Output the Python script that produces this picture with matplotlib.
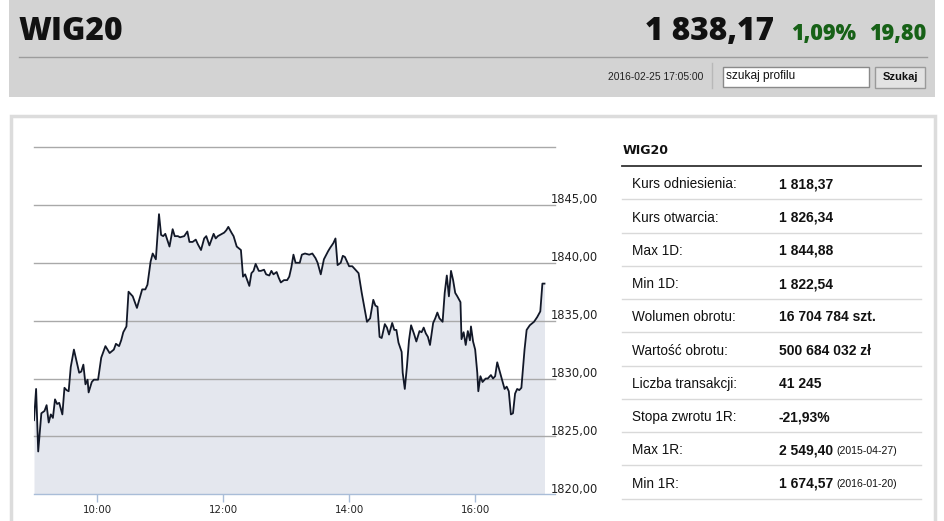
import matplotlib
matplotlib.use("Agg")
import matplotlib.pyplot as plt
from matplotlib.patches import Rectangle
from matplotlib.lines import Line2D
from matplotlib.text import Annotation

# ---------------- data ----------------
minutes_after_0900 = [
    0, 2, 4, 7, 10, 12, 14, 16, 18, 20, 22, 24, 27, 29, 31, 33, 35, 38, 40, 43,
    45, 47, 49, 51, 52, 55, 57, 61, 64, 68, 72, 76, 78, 81, 83, 85, 88, 90, 94, 98,
    103, 106, 108, 111, 113, 116, 119, 121, 123, 125, 129, 132, 134, 137, 139, 143, 146, 148, 151, 154,
    156, 159, 162, 164, 167, 169, 171, 173, 175, 177, 181, 183, 185, 188, 190, 193, 197, 199, 201, 203,
    205, 207, 209, 211, 214, 216, 219, 221, 224, 226, 228, 231, 233, 235, 238, 241, 243, 245, 247, 249,
    253, 255, 258, 262, 265, 268, 270, 273, 276, 280, 282, 285, 287, 289, 292, 294, 296, 300, 303, 306,
    309, 312, 317, 320, 323, 325, 327, 329, 331, 334, 336, 338, 341, 343, 345, 347, 350, 351, 353, 355,
    357, 359, 362, 364, 367, 369, 371, 373, 375, 377, 380, 382, 384, 386, 389, 391, 393, 395, 397, 399,
    401, 403, 406, 407, 409, 411, 413, 415, 416, 418, 420, 422, 423, 425, 427, 430, 432, 435, 437, 439,
    441, 444, 446, 448, 450, 452, 454, 456, 458, 460, 462, 464, 467, 469, 472, 476, 479, 482, 484, 486,
]
wig20_values = [
    1826.4, 1829.1, 1823.7, 1827.0, 1827.2, 1827.7, 1826.2, 1826.9, 1826.6, 1828.2,
    1827.8, 1827.9, 1826.9, 1829.2, 1829.0, 1828.9, 1831.0, 1832.5, 1831.7, 1830.5,
    1830.6, 1831.2, 1829.5, 1829.9, 1828.8, 1829.7, 1829.9, 1829.9, 1831.8, 1832.8,
    1832.2, 1832.5, 1833.0, 1832.8, 1833.3, 1834.0, 1834.5, 1837.5, 1837.1, 1836.1,
    1837.7, 1837.7, 1838.1, 1840.1, 1840.8, 1840.3, 1844.2, 1842.4, 1842.3, 1842.5,
    1841.4, 1842.9, 1842.3, 1842.3, 1842.2, 1842.3, 1842.7, 1841.8, 1841.8, 1842.0,
    1841.6, 1841.1, 1842.1, 1842.3, 1841.5, 1842.0, 1842.5, 1842.1, 1842.3, 1842.4,
    1842.6, 1842.8, 1843.1, 1842.6, 1842.3, 1841.4, 1841.1, 1838.8, 1839.0, 1838.5,
    1838.0, 1839.1, 1839.3, 1839.9, 1839.3, 1839.3, 1839.4, 1839.0, 1838.9, 1839.3,
    1839.0, 1839.2, 1838.7, 1838.3, 1838.5, 1838.5, 1838.8, 1839.6, 1840.7, 1840.0,
    1840.0, 1840.7, 1840.8, 1840.7, 1840.8, 1840.4, 1840.0, 1839.0, 1840.3, 1841.0,
    1841.3, 1841.7, 1842.1, 1839.8, 1840.0, 1840.6, 1840.5, 1839.7, 1839.7, 1839.4,
    1839.1, 1837.4, 1834.9, 1835.2, 1836.8, 1836.3, 1836.2, 1833.6, 1833.5, 1834.7,
    1834.4, 1833.8, 1834.8, 1834.2, 1834.2, 1833.1, 1832.3, 1830.5, 1829.1, 1831.0,
    1833.3, 1834.6, 1833.8, 1833.2, 1834.1, 1834.0, 1834.4, 1833.9, 1833.6, 1832.9,
    1834.8, 1835.2, 1835.7, 1835.2, 1834.9, 1837.4, 1838.9, 1837.1, 1839.3, 1838.5,
    1837.4, 1837.1, 1836.6, 1833.4, 1834.0, 1832.9, 1834.1, 1833.3, 1834.5, 1833.2,
    1832.5, 1830.5, 1828.9, 1830.2, 1829.7, 1830.0, 1830.0, 1830.3, 1830.0, 1830.2,
    1831.4, 1830.4, 1829.7, 1829.1, 1829.3, 1828.9, 1826.9, 1827.0, 1828.7, 1829.1,
    1829.0, 1829.2, 1832.5, 1834.2, 1834.6, 1834.9, 1835.3, 1835.8, 1838.2, 1838.2,
]
y_ticks = [1820, 1825, 1830, 1835, 1840, 1845, 1850]
y_tick_labels = ["1820,00", "1825,00", "1830,00", "1835,00", "1840,00", "1845,00", ""]
x_tick_minutes = [60, 180, 300, 420]
x_tick_labels = ["10:00", "12:00", "14:00", "16:00"]
x_span_minutes = 496

index_name = "WIG20"
last_value = "1 838,17"
change_pct = "1,09%"
change_abs = "19,80"
timestamp = "2016-02-25 17:05:00"
search_placeholder = "szukaj profilu"
search_button = "Szukaj"

stat_labels = ["Kurs odniesienia:", "Kurs otwarcia:", "Max 1D:", "Min 1D:",
               "Wolumen obrotu:", "Wartość obrotu:", "Liczba transakcji:",
               "Stopa zwrotu 1R:", "Max 1R:", "Min 1R:"]
stat_values = ["1 818,37", "1 826,34", "1 844,88", "1 822,54", "16 704 784 szt.",
               "500 684 032 zł", "41 245", "-21,93%", "2 549,40", "1 674,57"]
stat_notes = ["", "", "", "", "", "", "", "", "(2015-04-27)", "(2016-01-20)"]

# ---------------- figure helpers ----------------
W, H, DPI = 945, 521, 100
fig = plt.figure(figsize=(W / DPI, H / DPI), dpi=DPI)
fig.patch.set_facecolor("white")


def fx(x):
    return x / W


def fy(y):
    return 1 - y / H


def rect(x0, y0, x1, y1, **kw):
    fig.patches.append(Rectangle((fx(x0), fy(y1)), (x1 - x0) / W, (y1 - y0) / H,
                                 transform=fig.transFigure, figure=fig,
                                 zorder=-5, **kw))


def seg(x0, y0, x1, y1, **kw):
    fig.lines.append(Line2D([fx(x0), fx(x1)], [fy(y0), fy(y1)],
                            transform=fig.transFigure, figure=fig, **kw))


def text(x, y, s, **kw):
    return fig.text(fx(x), fy(y), s, **kw)


# ---------------- header ----------------
rect(9.5, -2, 935.5, 96.7, facecolor="#d3d3d3", edgecolor="none")
seg(19, 56.7, 927, 56.7, color="#9c9c9c", lw=1)
text(19, 40, index_name, family="Open Sans", weight="heavy", fontsize=22.8,
     color="#111111", va="baseline", ha="left")
text(774, 40, last_value, family="Open Sans", weight="heavy", fontsize=22.8,
     color="#111111", va="baseline", ha="right")
text(791, 40, change_pct, family="Open Sans", weight="heavy", fontsize=15.6,
     color="#176117", va="baseline", ha="left")
text(926, 40, change_abs, family="Open Sans", weight="heavy", fontsize=15.6,
     color="#176117", va="baseline", ha="right")
text(703, 76.5, timestamp, family="Liberation Sans", fontsize=7.4,
     color="#222222", va="center", ha="right")
seg(711.7, 63, 711.7, 88, color="#b8b8b8", lw=1)
rect(723, 66.7, 869, 86.7, facecolor="white", edgecolor="#8a8a8a", lw=1)
text(726, 79.5, search_placeholder, family="Liberation Sans", fontsize=8.6,
     color="#111111", va="baseline", ha="left")
rect(875, 67, 925, 87.5, facecolor="#e2e2e2", edgecolor="#9a9a9a", lw=1)
text(900, 77.5, search_button, family="Liberation Sans", weight="bold",
     fontsize=8, color="#111111", va="center", ha="center")

# ---------------- panel ----------------
rect(10.5, 116, 935.5, 540, facecolor="white", edgecolor="#dcdcdc", lw=2.5)

# ---------------- chart ----------------
ax_left, ax_right, ax_top, ax_bottom = 34, 555, 147, 494.3
ax = fig.add_axes([fx(ax_left), fy(ax_bottom), (ax_right - ax_left) / W,
                   (ax_bottom - ax_top) / H])
ax.set_zorder(5)
ax.set_facecolor("none")
ax.set_xlim(0, x_span_minutes)
ax.set_ylim(y_ticks[0], y_ticks[-1])

ax.fill_between(minutes_after_0900, wig20_values, y_ticks[0],
                color="#e4e7ee", lw=0, zorder=1)
for v in y_ticks[1:]:
    ax.axhline(v, color="#a9a9a9", lw=1, zorder=2, clip_on=False)
ax.plot(minutes_after_0900, wig20_values, color="#121828", lw=1.3, zorder=3,
        solid_joinstyle="round")

for v, lab in zip(y_ticks, y_tick_labels):
    if lab:
        ax.annotate(lab, xy=(1, v), xycoords=("axes fraction", "data"),
                    xytext=(-4, 1.5), textcoords="offset pixels",
                    ha="left", va="baseline", fontsize=8.3,
                    family="DejaVu Sans", color="#222222", annotation_clip=False)

for s in ["top", "right", "left"]:
    ax.spines[s].set_visible(False)
ax.spines["bottom"].set_color("#a9bdd8")
ax.spines["bottom"].set_linewidth(1)
ax.spines["bottom"].set_zorder(4)
ax.set_yticks([])
ax.set_xticks(x_tick_minutes)
ax.set_xticklabels(x_tick_labels, fontsize=7.4, family="DejaVu Sans",
                   color="#222222")
ax.tick_params(axis="x", direction="out", length=5.8, width=1,
               color="#a9bdd8", pad=2)

# ---------------- statistics table ----------------
text(622.5, 150, index_name, family="DejaVu Sans", weight="bold",
     fontsize=9, color="#111111", va="center", ha="left")
seg(622.5, 165.7, 921.5, 165.7, color="#333333", lw=1.3)
row_pitch = 33.25
first_row_center = 184.3
for i, (lab, val, note) in enumerate(zip(stat_labels, stat_values, stat_notes)):
    yc = first_row_center + i * row_pitch
    text(632.3, yc, lab, family="Liberation Sans", fontsize=9.8,
         color="#111111", va="center", ha="left")
    t = text(779, yc, val, family="Liberation Sans", weight="bold",
             fontsize=10, color="#111111", va="center", ha="left")
    if note:
        fig.add_artist(Annotation(note, xy=(1, 0.5), xycoords=t,
                                  xytext=(3, -0.5), textcoords="offset pixels",
                                  family="Liberation Sans", fontsize=7.6,
                                  color="#111111", va="center", ha="left"))
    seg(622.5, yc + 15, 921.5, yc + 15, color="#d9d9d9", lw=1)

fig.savefig("out.png", dpi=DPI, facecolor="white")
